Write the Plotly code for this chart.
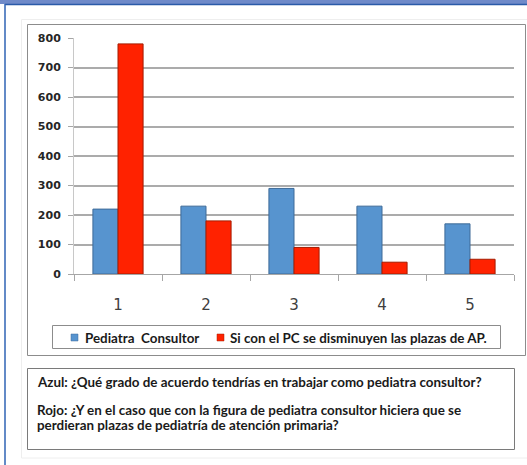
import plotly.graph_objects as go

categories = ["1", "2", "3", "4", "5"]
series_names = ["Pediatra  Consultor", "Si con el PC se disminuyen las plazas de AP."]
azul_values = [220, 230, 290, 230, 170]
rojo_values = [780, 180, 90, 40, 50]
y_ticks = [0, 100, 200, 300, 400, 500, 600, 700, 800]
note_lines = [
    "Azul: ¿Qué grado de acuerdo tendrías en trabajar como pediatra consultor?",
    "Rojo: ¿Y en el caso que con la figura de pediatra consultor hiciera que se",
    "perdieran plazas de pediatría de atención primaria?",
]

W, H = 527, 465
L, R, T, B = 74, 514, 38, 274


def px(x):
    return (x - L) / (R - L)


def py(y):
    return (B - y) / (B - T)


BLUE = "#5794CF"
RED = "#FF2200"
TXT_FONT = "Lato"
TXT_SIZE = 13.4

fig = go.Figure()
fig.add_trace(go.Bar(x=categories, y=azul_values, name=series_names[0],
                     marker=dict(color=BLUE, line=dict(color="#3E6B98", width=1))))
fig.add_trace(go.Bar(x=categories, y=rojo_values, name=series_names[1],
                     marker=dict(color=RED, line=dict(color="#A51C00", width=1))))

shapes = []
# top band
shapes.append(dict(type="rect", xref="paper", yref="paper", x0=px(0), x1=px(W), y0=py(0), y1=py(4),
                   fillcolor="#6F8AC9", line=dict(width=0), layer="below"))
shapes.append(dict(type="line", xref="paper", yref="paper", x0=px(5), x1=px(W), y0=py(4.5), y1=py(4.5),
                   line=dict(color="#2A5AA8", width=1.5)))
# left blue line
shapes.append(dict(type="line", xref="paper", yref="paper", x0=px(5), x1=px(5), y0=py(4), y1=py(H),
                   line=dict(color="#2F63B5", width=1.5)))
# faint page frame
shapes.append(dict(type="rect", xref="paper", yref="paper", x0=px(21.5), x1=px(W + 5), y0=py(19.5), y1=py(458),
                   line=dict(color="#EEEEEE", width=1), layer="below"))
# chart box
shapes.append(dict(type="rect", xref="paper", yref="paper", x0=px(27.5), x1=px(525.5), y0=py(24.5), y1=py(355.5),
                   line=dict(color="#8C8C8C", width=1), layer="below"))
# legend box
shapes.append(dict(type="rect", xref="paper", yref="paper", x0=px(52.5), x1=px(500.5), y0=py(325.5), y1=py(348.5),
                   line=dict(color="#8C8C8C", width=1)))
# legend symbols
shapes.append(dict(type="rect", xref="paper", yref="paper", x0=px(71), x1=px(78), y0=py(334), y1=py(341),
                   fillcolor=BLUE, line=dict(color="#3E6B98", width=0.5)))
shapes.append(dict(type="rect", xref="paper", yref="paper", x0=px(217), x1=px(224), y0=py(334), y1=py(341),
                   fillcolor=RED, line=dict(color="#A51C00", width=0.5)))
# note box
shapes.append(dict(type="rect", xref="paper", yref="paper", x0=px(27.5), x1=px(514.5), y0=py(368.5), y1=py(449.5),
                   line=dict(color="#7A7A7A", width=1)))

annotations = []
annotations.append(dict(text=series_names[0], x=px(83), y=py(337.5), xref="paper", yref="paper",
                        xanchor="left", yanchor="middle", showarrow=False,
                        font=dict(family=TXT_FONT, size=TXT_SIZE, weight="bold", color="#1a1a1a")))
annotations.append(dict(text=series_names[1], x=px(228), y=py(337.5), xref="paper", yref="paper",
                        xanchor="left", yanchor="middle", showarrow=False,
                        font=dict(family=TXT_FONT, size=TXT_SIZE, weight="bold", color="#1a1a1a")))
for line_text, yy in zip(note_lines, [381.5, 409.5, 424.5]):
    annotations.append(dict(text=line_text, x=px(35), y=py(yy), xref="paper", yref="paper",
                            xanchor="left", yanchor="middle", showarrow=False,
                            font=dict(family=TXT_FONT, size=TXT_SIZE, weight="bold", color="#1a1a1a")))

fig.update_layout(
    width=W, height=H, autosize=False,
    margin=dict(l=L, r=W - R, t=T, b=H - B, pad=0),
    paper_bgcolor="white", plot_bgcolor="white",
    barmode="group", bargap=0.43, bargroupgap=0,
    showlegend=False,
    shapes=shapes, annotations=annotations,
    xaxis=dict(type="category", showgrid=False, showline=True, linecolor="#A6A6A6", linewidth=1,
               ticks="outside", ticklen=6, tickcolor="#A6A6A6", tickson="boundaries",
               tickfont=dict(family="DejaVu Sans", size=15, color="#404040"),
               ticklabelstandoff=17, fixedrange=True),
    yaxis=dict(range=[0, 800], tickvals=y_ticks, showgrid=True, gridcolor="#ABABAB", gridwidth=1.5,
               showline=True, linecolor="#C8C8C8", linewidth=1, zeroline=False,
               ticks="outside", ticklen=5, tickcolor="#A6A6A6",
               tickfont=dict(family="DejaVu Sans", size=11, weight="bold", color="#262626"),
               ticklabelstandoff=5, fixedrange=True),
)

fig.write_html("out.html", config={"displayModeBar": False},
               post_script="document.body.style.margin='0';document.body.style.overflow='hidden';")
